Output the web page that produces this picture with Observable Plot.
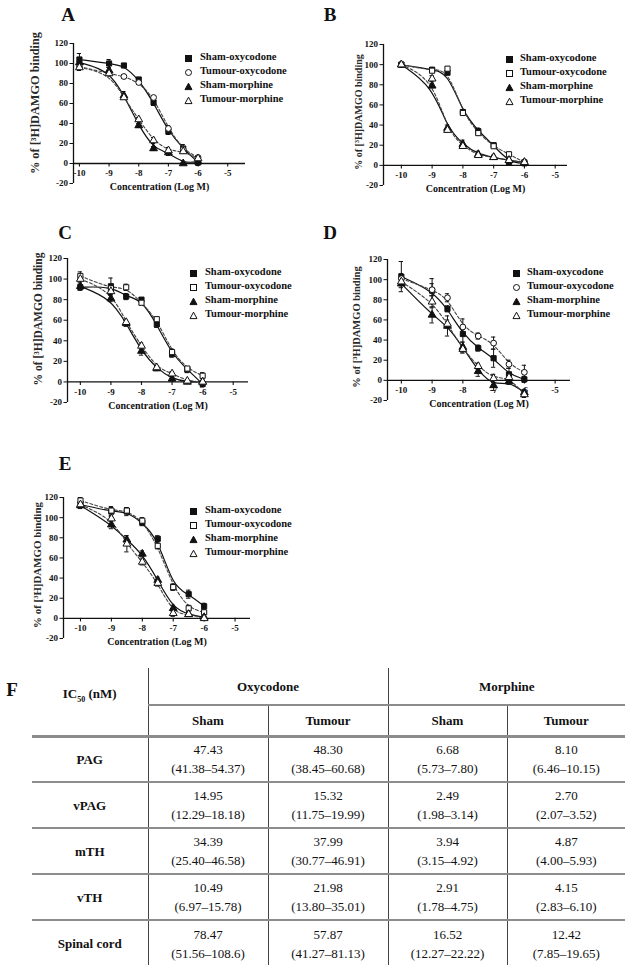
<!DOCTYPE html>
<html><head><meta charset="utf-8">
<script src="https://cdn.jsdelivr.net/npm/d3@7"></script>
<script src="https://cdn.jsdelivr.net/npm/@observablehq/plot@0.6"></script>
<style>
html,body{margin:0;padding:0;background:#fff;}
#root{position:relative;width:629px;height:965px;overflow:hidden;font-family:"Liberation Serif","Times New Roman",serif;color:#111;}
.letter{position:absolute;font-size:19px;font-weight:bold;line-height:1;transform:translate(-50%,-50%);}
.leg{position:absolute;font-size:10.5px;font-weight:bold;white-space:nowrap;line-height:1;}
.leg svg{position:absolute;}
.ylab{position:absolute;font-weight:bold;white-space:nowrap;line-height:1;color:#2a2a2a;transform:translate(-50%,-50%) rotate(-90deg);}
table.ic{position:absolute;border-collapse:collapse;font-size:13px;table-layout:fixed;}
table.ic td{text-align:center;vertical-align:middle;padding:0;line-height:19px;}
</style></head>
<body><div id="root"></div>
<script>
// ---------- data ----------
const concentrations = [-10, -9, -8.5, -8, -7.5, -7, -6.5, -6];
const xTicks = [-10, -9, -8, -7, -6, -5];
const yTicks = [-20, 0, 20, 40, 60, 80, 100, 120];
const seriesNames = ["Sham-oxycodone", "Tumour-oxycodone", "Sham-morphine", "Tumour-morphine"];
const xLabel = "Concentration (Log M)";
const yLabel = "% of [³H]DAMGO binding";
const panelLetters = ["A", "B", "C", "D", "E"];

const A_shamOxy   = [104, 100, 98, 84, 61, 32, 15, 1];
const A_tumourOxy = [97, 90, 87, 81, 66, 35, 14, 6];
const A_shamMor   = [101, 93, 68, 38, 15, 11, 0, 2];
const A_tumourMor = [96, 90, 66, 44, 23, 13, 12, 5];
const A_err = [[6, 4, 2, 2, 3, 3, 4, 3], [3, 2, 2, 2, 2, 3, 3, 2], [5, 3, 4, 2, 2, 3, 1, 3], [3, 2, 2, 2, 3, 3, 2, 2]];

const B_shamOxy   = [100, 95, 92, 53, 34, 20, 3, 2];
const B_tumourOxy = [100, 94, 96, 52, 32, 19, 11, 3];
const B_shamMor   = [100, 79, 37, 21, 11, 8, 5, 3];
const B_tumourMor = [100, 86, 35, 19, 10, 8, 5, 3];
const B_err = [[2, 2, 2, 2, 3, 2, 2, 2], [2, 2, 2, 2, 2, 2, 2, 2], [2, 2, 3, 4, 3, 2, 2, 2], [2, 3, 2, 2, 2, 2, 2, 2]];

const C_shamOxy   = [92, 93, 83, 80, 56, 27, 12, -2];
const C_tumourOxy = [103, 91, 92, 77, 61, 29, 13, 6];
const C_shamMor   = [93, 81, 57, 30, 13, 3, 0, 0];
const C_tumourMor = [100, 88, 58, 35, 14, 8, 1, 0];
const C_err = [[3, 8, 3, 2, 3, 3, 3, 3], [4, 3, 3, 2, 2, 3, 2, 3], [2, 3, 3, 4, 2, 2, 1, 1], [3, 3, 2, 3, 2, 2, 1, 1]];

const D_shamOxy   = [103, 89, 71, 46, 32, 22, 6, 1];
const D_tumourOxy = [101, 90, 82, 53, 44, 37, 16, 8];
const D_shamMor   = [96, 65, 54, 33, 9, -5, -1, -12];
const D_tumourMor = [98, 78, 56, 31, 14, 2, 3, -14];
const D_err = [[15, 12, 3, 8, 3, 9, 6, 3], [5, 6, 4, 8, 3, 6, 4, 7], [4, 8, 10, 5, 5, 5, 3, 3], [4, 6, 4, 4, 3, 4, 4, 3]];

const E_shamOxy   = [113, 106, 106, 95, 79, 31, 24, 12];
const E_tumourOxy = [117, 107, 107, 97, 72, 31, 10, 6];
const E_shamMor   = [112, 93, 78, 64, 38, 10, 4, 1];
const E_tumourMor = [113, 99, 74, 56, 35, 5, 4, 0];
const E_err = [[3, 5, 4, 3, 3, 3, 4, 3], [3, 3, 3, 3, 3, 3, 3, 3], [3, 4, 4, 3, 3, 3, 2, 2], [3, 3, 8, 3, 3, 3, 2, 2]];

// table
const tableRegions = ["PAG", "vPAG", "mTH", "vTH", "Spinal cord"];
const oxySham    = ["47.43", "14.95", "34.39", "10.49", "78.47"];
const oxyShamCI  = ["(41.38–54.37)", "(12.29–18.18)", "(25.40–46.58)", "(6.97–15.78)", "(51.56–108.6)"];
const oxyTumour  = ["48.30", "15.32", "37.99", "21.98", "57.87"];
const oxyTumourCI= ["(38.45–60.68)", "(11.75–19.99)", "(30.77–46.91)", "(13.80–35.01)", "(41.27–81.13)"];
const morSham    = ["6.68", "2.49", "3.94", "2.91", "16.52"];
const morShamCI  = ["(5.73–7.80)", "(1.98–3.14)", "(3.15–4.92)", "(1.78–4.75)", "(12.27–22.22)"];
const morTumour  = ["8.10", "2.70", "4.87", "4.15", "12.42"];
const morTumourCI= ["(6.46–10.15)", "(2.07–3.52)", "(4.00–5.93)", "(2.83–6.10)", "(7.85–19.65)"];

// ---------- layout ----------
const panels = [
  {letter: "A", vals: [A_shamOxy, A_tumourOxy, A_shamMor, A_tumourMor], err: A_err, tumourOxySymbol: "circle",
   left: 0, top: 30, width: 255, height: 175, mL: 73, mR: 10, mT: 13, mB: 22, xDomain: [-10.2, -4.4],
   yLab: {x: 35, y: 103, size: 12.3},
   letterPos: [68, 14], leg: {sx: 188, tx: 200, y: [58, 72, 86, 100]}},
  {letter: "B", vals: [B_shamOxy, B_tumourOxy, B_shamMor, B_tumourMor], err: B_err, tumourOxySymbol: "square",
   left: 310, top: 30, width: 265, height: 175, mL: 73, mR: 8, mT: 14, mB: 20, xDomain: [-10.58, -4.6],
   yLab: {x: 359, y: 112, size: 10},
   letterPos: [330, 14], leg: {sx: 509, tx: 520, y: [59, 73, 87, 101]}},
  {letter: "C", vals: [C_shamOxy, C_tumourOxy, C_shamMor, C_tumourMor], err: C_err, tumourOxySymbol: "square",
   left: 0, top: 245, width: 255, height: 175, mL: 67, mR: 7, mT: 13, mB: 18, xDomain: [-10.42, -4.5],
   yLab: {x: 39, y: 319, size: 11.5},
   letterPos: [65, 232], leg: {sx: 193, tx: 205, y: [273, 287, 301, 315]}},
  {letter: "D", vals: [D_shamOxy, D_tumourOxy, D_shamMor, D_tumourMor], err: D_err, tumourOxySymbol: "circle",
   left: 310, top: 245, width: 265, height: 175, mL: 77, mR: 5, mT: 14, mB: 20, xDomain: [-10.45, -4.5],
   yLab: {x: 357, y: 327, size: 10.5},
   letterPos: [330, 232], leg: {sx: 516, tx: 527, y: [273, 287, 301, 315]}},
  {letter: "E", vals: [E_shamOxy, E_tumourOxy, E_shamMor, E_tumourMor], err: E_err, tumourOxySymbol: "square",
   left: 0, top: 480, width: 260, height: 175, mL: 63, mR: 10, mT: 17, mB: 17, xDomain: [-10.55, -4.5],
   yLab: {x: 37, y: 565, size: 10.9},
   letterPos: [65, 463], leg: {sx: 193, tx: 205, y: [511, 525, 539, 553]}}
];

const root = document.getElementById("root");
const FONT = "Liberation Serif, Times New Roman, serif";

function symbolSvg(sym, filled) {
  const f = filled ? "#111" : "#fff";
  let shape;
  if (sym === "square") shape = `<rect x="1.5" y="1.5" width="6" height="6" fill="${f}" stroke="#111" stroke-width="1"/>`;
  else if (sym === "circle") shape = `<circle cx="4.5" cy="4.5" r="3" fill="${f}" stroke="#111" stroke-width="1"/>`;
  else shape = `<polygon points="4.5,1.2 8,7.6 1,7.6" fill="${f}" stroke="#111" stroke-width="1"/>`;
  return `<svg width="9" height="9" viewBox="0 0 9 9">${shape}</svg>`;
}

panels.forEach(p => {
  const symbols = ["square", p.tumourOxySymbol, "triangle", "triangle"];
  const filled = [true, false, true, false];
  const rows = [];
  p.vals.forEach((vals, si) => vals.forEach((v, i) => rows.push({s: si, x: concentrations[i], y: v, e: p.err[si][i]})));

  const marks = [
    Plot.ruleX([p.xDomain[0]], {stroke: "#111", strokeWidth: 1.3}),
    Plot.ruleY([0], {stroke: "#111", strokeWidth: 1.3}),
    Plot.axisY({ticks: yTicks, tickSize: 3.5, tickPadding: 2, tickFormat: d => String(d), fontSize: 9, fontWeight: "bold", label: null}),
    Plot.ruleX(xTicks, {x: d => d, y1: 0, y2: -3.5, stroke: "#111", strokeWidth: 1.1}),
    Plot.text(xTicks, {x: d => d, y: 0, dy: 10, text: d => String(d), fontSize: 9, fontWeight: "bold"}),
    Plot.text([xLabel], {text: d => d, frameAnchor: "bottom", dy: 6, fontSize: 10, fontWeight: "bold"})
  ];
  [0, 1, 2, 3].forEach(si => {
    const d = rows.filter(r => r.s === si);
    const sham = si % 2 === 0;
    marks.push(Plot.line(d, {x: "x", y: "y", curve: "basis", stroke: sham ? "#111" : "#444", strokeWidth: sham ? 1.2 : 1.1, strokeDasharray: sham ? null : "3,2"}));
  });
  [0, 1, 2, 3].forEach(si => {
    const d = rows.filter(r => r.s === si);
    marks.push(Plot.ruleX(d, {x: "x", y1: r => r.y - r.e, y2: r => r.y + r.e, stroke: "#111", strokeWidth: 1}));
    marks.push(Plot.ruleY(d, {y: r => r.y + r.e, x1: r => r.x - 0.07, x2: r => r.x + 0.07, stroke: "#111", strokeWidth: 1}));
    marks.push(Plot.ruleY(d, {y: r => r.y - r.e, x1: r => r.x - 0.07, x2: r => r.x + 0.07, stroke: "#111", strokeWidth: 1}));
  });
  [0, 1, 2, 3].forEach(si => {
    const d = rows.filter(r => r.s === si);
    marks.push(Plot.dot(d, {x: "x", y: "y", symbol: symbols[si], r: 2.9, fill: filled[si] ? "#111" : "#fff", stroke: "#111", strokeWidth: 1}));
  });

  const svg = Plot.plot({
    width: p.width, height: p.height,
    marginLeft: p.mL, marginRight: p.mR, marginTop: p.mT, marginBottom: p.mB,
    x: {domain: p.xDomain, axis: null},
    y: {domain: [-20, 120], axis: null},
    style: {fontFamily: FONT, color: "#111", background: "transparent", overflow: "visible"},
    marks
  });
  svg.style.position = "absolute";
  svg.style.left = p.left + "px";
  svg.style.top = p.top + "px";
  root.appendChild(svg);

  const yl = document.createElement("div");
  yl.className = "ylab";
  yl.textContent = yLabel;
  yl.style.left = p.yLab.x + "px";
  yl.style.top = p.yLab.y + "px";
  yl.style.fontSize = p.yLab.size + "px";
  root.appendChild(yl);

  const L = document.createElement("div");
  L.className = "letter";
  L.textContent = p.letter;
  L.style.left = p.letterPos[0] + "px";
  L.style.top = p.letterPos[1] + "px";
  root.appendChild(L);

  seriesNames.forEach((name, si) => {
    const s = document.createElement("div");
    s.className = "leg";
    s.style.left = (p.leg.sx - 4.5) + "px";
    s.style.top = (p.leg.y[si] - 4.5) + "px";
    s.innerHTML = symbolSvg(symbols[si], filled[si]);
    root.appendChild(s);
    const t = document.createElement("div");
    t.className = "leg";
    t.textContent = name;
    t.style.left = p.leg.tx + "px";
    t.style.top = (p.leg.y[si] - 6) + "px";
    root.appendChild(t);
  });
});

// ---------- table F ----------
const F = document.createElement("div");
F.className = "letter";
F.textContent = "F";
F.style.left = "12px";
F.style.top = "689px";
root.appendChild(F);

const HL = "2px solid #8c8c8c";
const VL = "1px solid #444";
const colW = [116, 120, 120, 119, 118];
let html = `<colgroup>${colW.map(w => `<col style="width:${w}px">`).join("")}</colgroup>`;
html += `<tr style="height:37px"><td rowspan="2" style="border-right:${VL};border-bottom:3px solid #8c8c8c;font-weight:bold;padding-bottom:10px">IC<sub style="font-size:8px">50</sub> (nM)</td>` +
        `<td colspan="2" style="border-right:${VL};border-bottom:${HL};font-weight:bold">Oxycodone</td>` +
        `<td colspan="2" style="border-bottom:${HL};font-weight:bold">Morphine</td></tr>`;
html += `<tr style="height:31px">` + ["Sham", "Tumour", "Sham", "Tumour"].map((h, i) =>
        `<td style="${i < 3 ? "border-right:" + VL + ";" : ""}border-bottom:3px solid #8c8c8c;font-weight:bold">${h}</td>`).join("") + `</tr>`;
tableRegions.forEach((reg, r) => {
  const cells = [[oxySham[r], oxyShamCI[r]], [oxyTumour[r], oxyTumourCI[r]], [morSham[r], morShamCI[r]], [morTumour[r], morTumourCI[r]]];
  const bb = r < tableRegions.length - 1 ? `border-bottom:${HL};` : "";
  html += `<tr style="height:46px"><td style="border-right:${VL};${bb}font-weight:bold">${reg}</td>` +
    cells.map((c, i) => `<td style="${i < 3 ? "border-right:" + VL + ";" : ""}${bb}">${c[0]}<br>${c[1]}</td>`).join("") + `</tr>`;
});
const tbl = document.createElement("table");
tbl.className = "ic";
tbl.innerHTML = html;
tbl.style.left = "32px";
tbl.style.top = "668px";
tbl.style.width = "593px";
root.appendChild(tbl);
</script>
</body></html>
